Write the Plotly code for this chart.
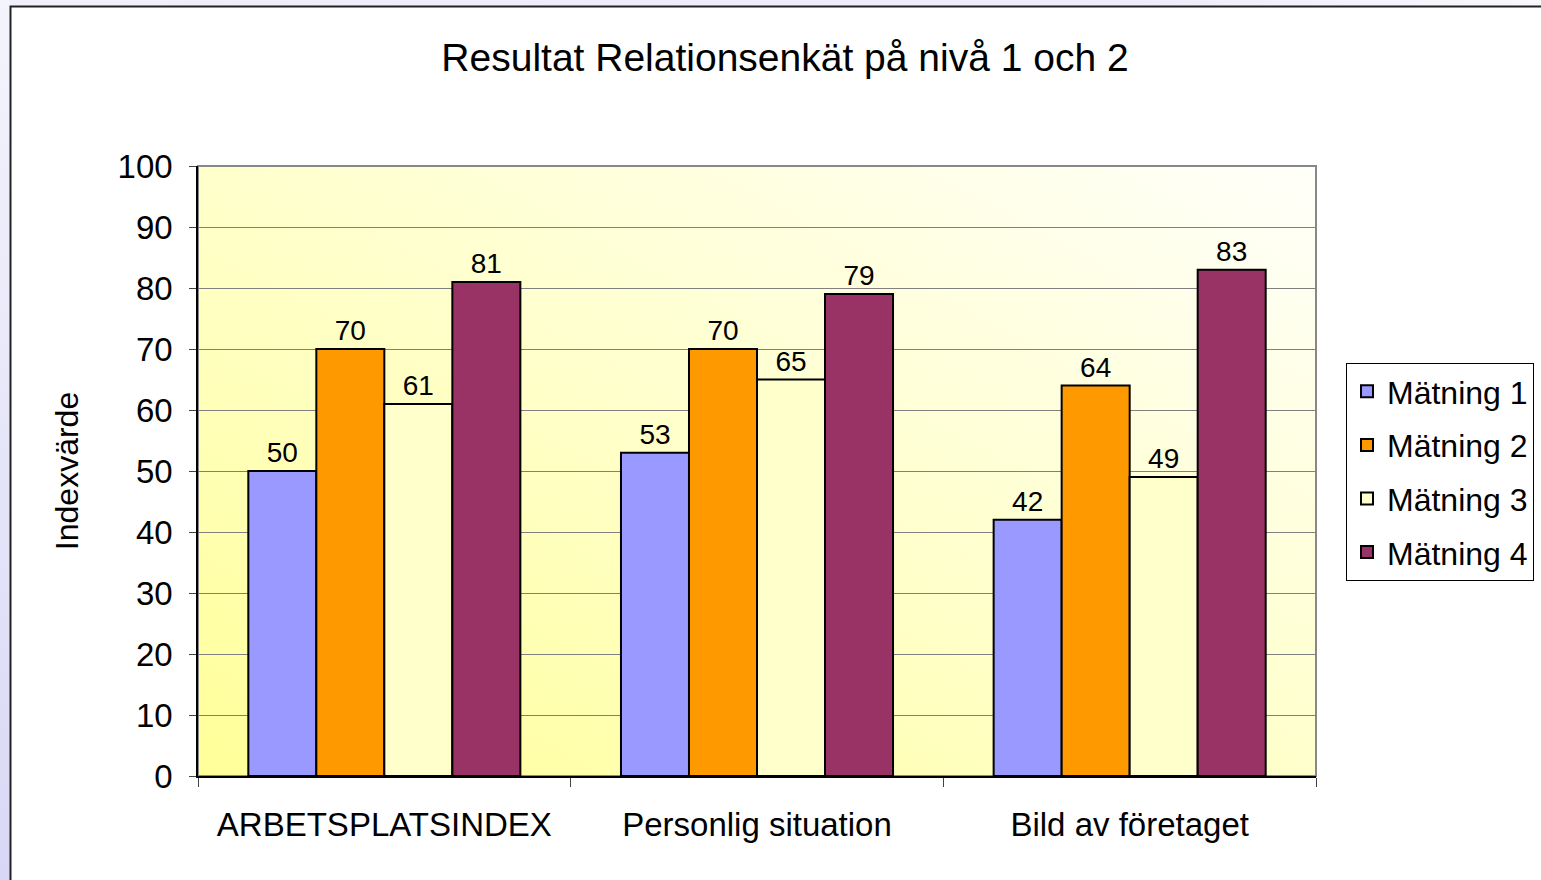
import base64
import plotly.graph_objects as go

categories = ["ARBETSPLATSINDEX", "Personlig situation", "Bild av företaget"]
series_names = ["Mätning 1", "Mätning 2", "Mätning 3", "Mätning 4"]
matning_1 = [50, 53, 42]
matning_2 = [70, 70, 64]
matning_3 = [61, 65, 49]
matning_4 = [81, 79, 83]
y_ticks = [0, 10, 20, 30, 40, 50, 60, 70, 80, 90, 100]

series_values = [matning_1, matning_2, matning_3, matning_4]
colors = ["#9999FF", "#FF9900", "#FFFFCC", "#993366"]

W, H = 1541, 880
L, R, T, B = 198, 1316, 166, 776
PW, PH = R - L, B - T

svg = f'''<svg xmlns="http://www.w3.org/2000/svg" width="{W}" height="{H}" viewBox="0 0 {W} {H}" preserveAspectRatio="none">
<defs>
<linearGradient id="lav" x1="0" y1="0" x2="0" y2="1">
<stop offset="0" stop-color="#F4F4FC"/><stop offset="1" stop-color="#D8D8F6"/>
</linearGradient>
<linearGradient id="top" x1="0" y1="0" x2="1" y2="0">
<stop offset="0" stop-color="#F0F0FB"/><stop offset="0.7" stop-color="#ECECFA"/><stop offset="1" stop-color="#F8F8FD"/>
</linearGradient>
<linearGradient id="pa" x1="0" y1="1" x2="1" y2="0">
<stop offset="0" stop-color="#FFFF99"/><stop offset="0.5" stop-color="#FFFFCC"/><stop offset="1" stop-color="#FFFFFA"/>
</linearGradient>
</defs>
<rect x="0" y="0" width="{W}" height="{H}" fill="#FFFFFF"/>
<rect x="0" y="0" width="10" height="{H}" fill="url(#lav)"/>
<rect x="10" y="0" width="{W-10}" height="6" fill="url(#top)"/>
<path d="M10.5 {H} L10.5 6.5 L{W} 6.5" fill="none" stroke="#222222" stroke-width="2"/>
<rect x="{L}" y="{T}" width="{PW}" height="{PH}" fill="url(#pa)" stroke="#888888" stroke-width="2"/>
</svg>'''
svg_uri = "data:image/svg+xml;base64," + base64.b64encode(svg.encode("utf-8")).decode("ascii")

FONT = "Liberation Sans, Arial, sans-serif"

fig = go.Figure()
for i, (name, vals) in enumerate(zip(series_names, series_values)):
    fig.add_trace(go.Bar(
        x=categories, y=vals, name=name,
        marker=dict(color=colors[i], line=dict(color="#000000", width=2)),
        text=[str(v) for v in vals], textposition="outside",
        textfont=dict(family=FONT, size=28, color="#000000"),
        cliponaxis=False, legendgroup=name,
    ))

fig.update_layout(
    width=W, height=H,
    margin=dict(l=L, r=W - R, t=T, b=H - B, autoexpand=False),
    paper_bgcolor="rgba(0,0,0,0)", plot_bgcolor="rgba(0,0,0,0)",
    barmode="group", bargap=0.27, bargroupgap=0,
    font=dict(family=FONT, color="#000000"),
    title=dict(text="Resultat Relationsenkät på nivå 1 och 2",
               font=dict(family=FONT, size=39, color="#000000"),
               x=(785 - L) / PW, xref="paper", xanchor="center",
               y=1 - 57 / H, yref="container", yanchor="middle"),
    legend=dict(x=(1346 - L) / PW, y=(B - 363) / PH, xanchor="left", yanchor="top",
                xref="paper", yref="paper",
                bgcolor="#FFFFFF", bordercolor="#000000", borderwidth=1,
                font=dict(family=FONT, size=32, color="#000000"),
                traceorder="grouped", tracegroupgap=9, itemwidth=30),
    images=[dict(source=svg_uri, xref="paper", yref="paper",
                 x=-L / PW, y=1 + T / PH, sizex=W / PW, sizey=H / PH,
                 xanchor="left", yanchor="top", sizing="stretch", layer="below")],
    showlegend=True,
)

fig.update_xaxes(
    showline=True, linecolor="#000000", linewidth=2,
    ticks="outside", tickson="boundaries", ticklen=9, tickcolor="#444444", tickwidth=1,
    tickfont=dict(family=FONT, size=33, color="#000000"), ticklabelstandoff=18,
    showgrid=False,
)
fig.update_yaxes(
    range=[0, 100], tickvals=y_ticks, showline=True, linecolor="#000000", linewidth=1.5,
    ticks="outside", ticklen=7, tickcolor="#444444", tickwidth=1,
    tickfont=dict(family=FONT, size=33, color="#000000"), ticklabelstandoff=10,
    showgrid=True, gridcolor="#808080", gridwidth=1, zeroline=False,
    title=dict(text="Indexvärde", font=dict(family=FONT, size=32, color="#000000"), standoff=29),
)

fig.write_html("out.html", config={"displayModeBar": False},
               post_script="document.body.style.margin='0';document.body.style.overflow='hidden';")
